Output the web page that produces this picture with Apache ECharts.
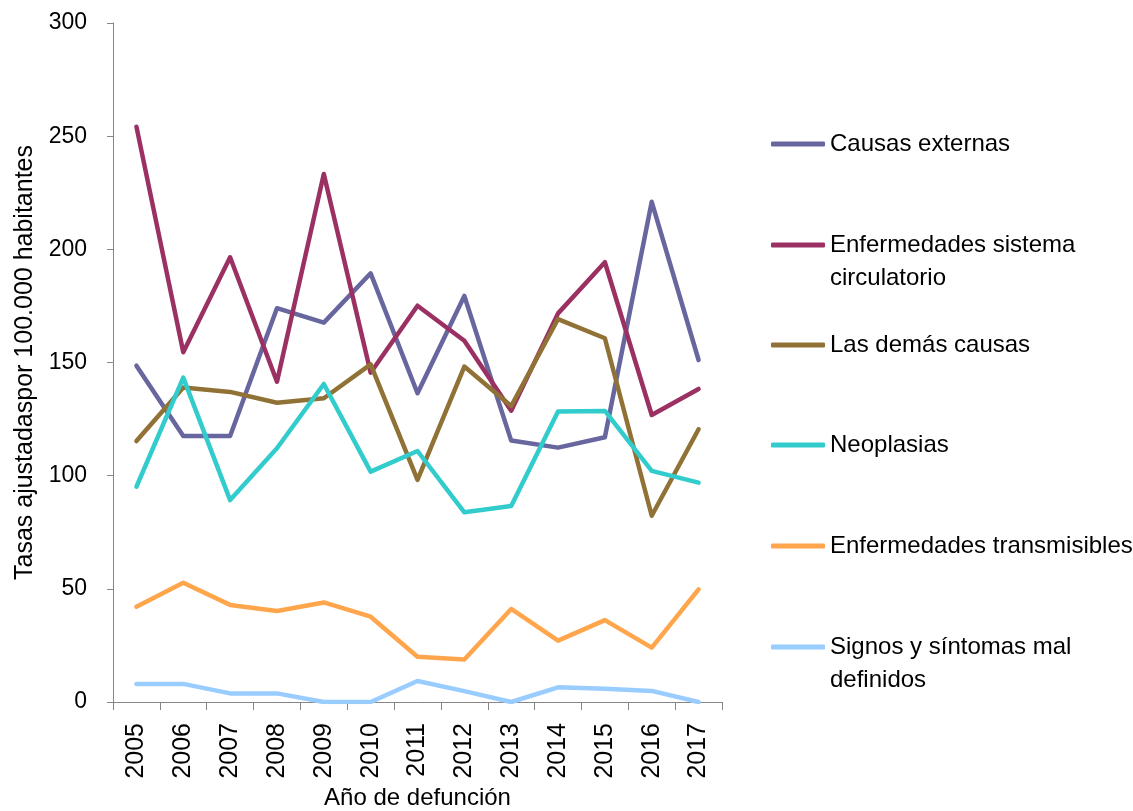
<!DOCTYPE html>
<html>
<head>
<meta charset="utf-8">
<script src="https://cdn.jsdelivr.net/npm/echarts@6/dist/echarts.min.js"></script>
<style>
html,body{margin:0;padding:0;background:#fff;}
#chart{width:1133px;height:811px;}
</style>
</head>
<body>
<div id="chart"></div>
<script>
const years = ['2005','2006','2007','2008','2009','2010','2011','2012','2013','2014','2015','2016','2017'];
const causasExternas = [148.6,117.5,117.5,174,167.6,189.4,136.4,179.4,115.5,112.4,117,221,151.1];
const circulatorio = [254.2,154.5,196.5,141.5,233.3,145.5,175.1,159.6,128.7,171.7,194.3,126.8,138.3];
const demasCausas = [115.3,139,137,132.2,134.2,149.2,98.1,148.2,130.8,169.2,160.7,82.3,120.5];
const neoplasias = [95.1,143.3,89.2,112.1,140.5,101.8,110.9,83.8,86.6,128.3,128.6,102.1,96.9];
const transmisibles = [42.1,52.7,42.9,40.2,44.0,37.7,20.0,18.8,41.1,27.1,36.2,24.0,49.8];
const signos = [8.0,8.0,3.8,3.8,0,0,9.3,4.8,0,6.5,5.9,4.9,0];
const seriesNames = ['Causas externas','Enfermedades sistema circulatorio','Las demás causas','Neoplasias','Enfermedades transmisibles','Signos y síntomas mal definidos'];
const legendLabels = ['Causas externas','Enfermedades sistema\ncirculatorio','Las demás causas','Neoplasias','Enfermedades transmisibles','Signos y síntomas mal\ndefinidos'];
const yTicks = [0,50,100,150,200,250,300];

const seriesData = [causasExternas, circulatorio, demasCausas, neoplasias, transmisibles, signos];
const colors = ['#67669E','#9B3162','#907237','#33CCCC','#FFA64D','#99CCFF'];
const FONT = "'Liberation Sans',Arial,sans-serif";
const legendCenters = [144,245,345,445,546,647];
const LH = 33;

const chart = echarts.init(document.getElementById('chart'));
const legends = seriesNames.map((n,i)=>{
  const multi = legendLabels[i].indexOf('\n')>=0;
  // multi-line labels get a blank leading line so the first text line sits beside the icon
  const label = multi ? ' \n' + legendLabels[i] : legendLabels[i];
  return {
    left: 771,
    top: multi ? legendCenters[i] - 1.5*LH : legendCenters[i] - 0.5*LH,
    padding: 0,
    orient: 'vertical',
    icon: 'roundRect',
    itemWidth: 54,
    itemHeight: 5,
    itemGap: 5,
    selectedMode: false,
    data: [n],
    formatter: function(){ return label; },
    textStyle: {
      fontFamily: FONT, fontSize: 24, color: '#000',
      lineHeight: LH
    }
  };
});

chart.setOption({
  animation: false,
  backgroundColor: '#fff',
  color: colors,
  grid: {left: 113, right: 411, top: 23, bottom: 109, containLabel: false, outerBoundsMode: 'none'},
  legend: legends,
  xAxis: {
    type: 'category',
    data: years,
    boundaryGap: true,
    name: 'Año de defunción',
    nameLocation: 'middle',
    nameGap: 82,
    nameTextStyle: {fontFamily: FONT, fontSize: 24, color: '#000'},
    axisLine: {lineStyle: {color: '#868686', width: 1}},
    axisTick: {show: true, length: 8, lineStyle: {color: '#868686'}},
    axisLabel: {rotate: 90, margin: 21, fontFamily: FONT, fontSize: 25, color: '#000'}
  },
  yAxis: {
    type: 'value',
    min: yTicks[0], max: yTicks[yTicks.length-1], interval: 50,
    name: 'Tasas ajustadaspor 100.000 habitantes',
    nameLocation: 'middle',
    nameGap: 75,
    nameTextStyle: {fontFamily: FONT, fontSize: 25, color: '#000'},
    axisLine: {show: true, lineStyle: {color: '#868686', width: 1}},
    axisTick: {show: true, length: 6, lineStyle: {color: '#868686'}},
    splitLine: {show: false},
    axisLabel: {margin: 26, fontFamily: FONT, fontSize: 23, color: '#000'}
  },
  series: seriesNames.map((n,i)=>({
    name: n,
    type: 'line',
    data: seriesData[i],
    symbol: 'none',
    lineStyle: {width: 4.5, color: colors[i], cap: 'round', join: 'round'},
    itemStyle: {color: colors[i]}
  }))
});
</script>
</body>
</html>
